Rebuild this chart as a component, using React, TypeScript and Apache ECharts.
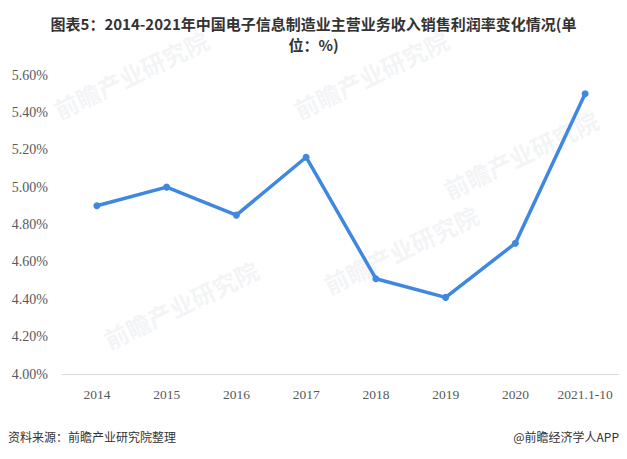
import React, { useEffect, useRef } from "react";
import * as echarts from "echarts";

const categories = ["2014", "2015", "2016", "2017", "2018", "2019", "2020", "2021.1-10"];
const profitRate = [4.9, 5.0, 4.85, 5.16, 4.51, 4.41, 4.7, 5.5];
const yTicks = { min: 4.0, max: 5.6, interval: 0.2 };

const titleText = "图表5：2014-2021年中国电子信息制造业主营业务收入销售利润率变化情况(单\n位：%)";
const sourceText = "资料来源：前瞻产业研究院整理";
const brandText = "@前瞻经济学人APP";

export default function App() {
  const ref = useRef<HTMLDivElement>(null);
  useEffect(() => {
    if (!ref.current) return;
    const chart = echarts.init(ref.current, undefined, { renderer: "svg" });
    const wm = (x: number, y: number) => ({
      type: "text",
      x,
      y,
      rotation: Math.PI / 7,
      style: {
        text: "前瞻产业研究院",
        fill: "rgba(200,205,215,0.22)",
        font: "bold 24px 'Noto Sans CJK SC'",
      },
      z: -1,
    });
    chart.setOption({
      animation: false,
      backgroundColor: "#ffffff",
      title: {
        text: titleText,
        left: "center",
        top: 8,
        textStyle: {
          fontSize: 15,
          fontWeight: "bold",
          color: "#333333",
          fontFamily: "'Noto Sans CJK SC', sans-serif",
          lineHeight: 21,
        },
      },
      grid: { left: 62, right: 7, top: 75, bottom: 85, containLabel: false },
      xAxis: {
        type: "category",
        data: categories,
        boundaryGap: true,
        axisLine: { lineStyle: { color: "#d9d9d9" } },
        axisTick: { show: false },
        axisLabel: {
          interval: 0,
          hideOverlap: false,
          color: "#595959",
          fontSize: 13.5,
          fontFamily: "'Liberation Serif', 'DejaVu Serif', serif",
          margin: 13,
        },
      },
      yAxis: {
        type: "value",
        min: yTicks.min,
        max: yTicks.max,
        interval: yTicks.interval,
        axisLine: { show: false },
        axisTick: { show: false },
        splitLine: { show: false },
        axisLabel: {
          color: "#595959",
          fontSize: 14,
          fontFamily: "'Liberation Serif', 'DejaVu Serif', serif",
          margin: 14,
          formatter: (v: number) => v.toFixed(2) + "%",
        },
      },
      series: [
        {
          type: "line",
          data: profitRate,
          symbol: "circle",
          symbolSize: 7,
          lineStyle: { color: "#3f87e0", width: 3.5 },
          itemStyle: { color: "#3f87e0" },
          z: 5,
        },
      ],
      graphic: [
        wm(50, 100),
        wm(290, 100),
        wm(440, 180),
        wm(100, 330),
        wm(320, 275),
        {
          type: "text",
          left: 8,
          top: 430,
          style: {
            text: sourceText,
            fill: "#333333",
            font: "12px 'Noto Sans CJK SC', sans-serif",
          },
        },
        {
          type: "text",
          right: 8,
          top: 430,
          style: {
            text: brandText,
            fill: "#333333",
            font: "12px 'Noto Sans CJK SC', sans-serif",
          },
        },
      ],
    });
    return () => chart.dispose();
  }, []);
  return <div ref={ref} style={{ width: 627, height: 459, margin: -8 }} />;
}
